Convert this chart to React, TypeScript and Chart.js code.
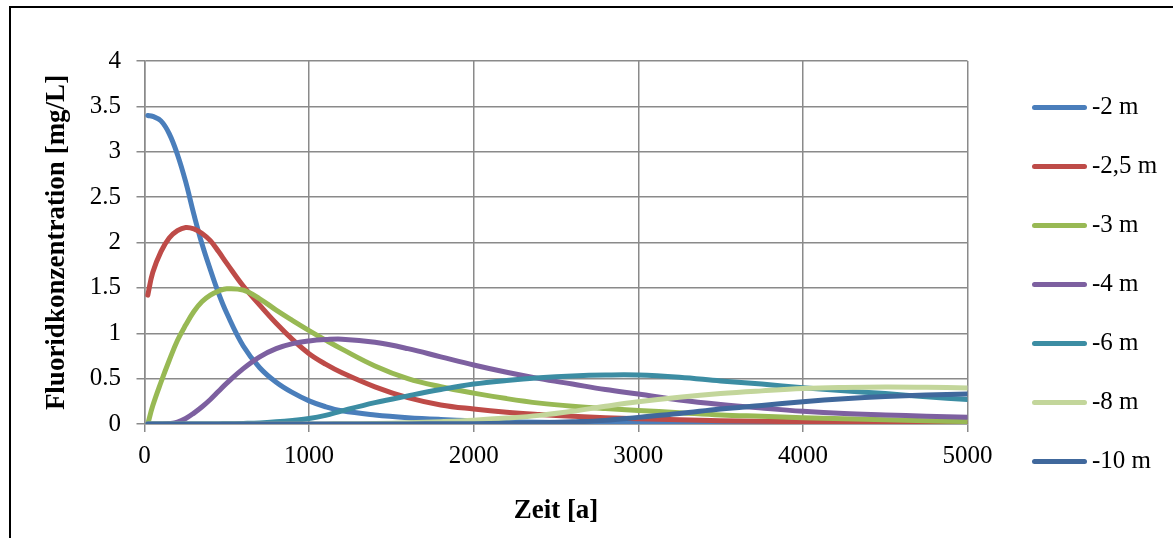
import React, { useEffect, useRef } from "react";
import { Chart, registerables } from "chart.js";

Chart.register(...registerables);

// Time axis (years)
const times = [20, 50, 100, 150, 200, 250, 300, 350, 400, 450, 500, 600, 700, 800, 900, 1000, 1100, 1200, 1400, 1600, 1800, 2000, 2200, 2400, 2600, 2800, 3000, 3250, 3500, 3750, 4000, 4250, 4500, 4750, 5000];

const seriesNames = ["-2 m", "-2,5 m", "-3 m", "-4 m", "-6 m", "-8 m", "-10 m"];

const depth2 = [3.40, 3.39, 3.34, 3.20, 2.97, 2.67, 2.31, 1.98, 1.70, 1.44, 1.22, 0.86, 0.62, 0.46, 0.345, 0.255, 0.19, 0.145, 0.10, 0.07, 0.05, 0.036, 0.027, 0.02, 0.015, 0.012, 0.009, 0.007, 0.005, 0.004, 0.003, 0.003, 0.002, 0.002, 0.002];
const depth25 = [1.42, 1.67, 1.90, 2.05, 2.13, 2.165, 2.15, 2.10, 2.02, 1.90, 1.77, 1.52, 1.31, 1.11, 0.93, 0.775, 0.66, 0.565, 0.41, 0.29, 0.21, 0.165, 0.13, 0.105, 0.085, 0.07, 0.058, 0.046, 0.037, 0.03, 0.025, 0.02, 0.017, 0.014, 0.012];
const depth3 = [0.0, 0.2, 0.46, 0.70, 0.92, 1.09, 1.24, 1.35, 1.42, 1.465, 1.49, 1.475, 1.38, 1.255, 1.14, 1.03, 0.925, 0.825, 0.64, 0.50, 0.41, 0.34, 0.28, 0.23, 0.195, 0.17, 0.15, 0.125, 0.10, 0.085, 0.07, 0.058, 0.047, 0.036, 0.027];
const depth4 = [0, 0, 0, 0.005, 0.02, 0.06, 0.12, 0.19, 0.27, 0.36, 0.45, 0.61, 0.74, 0.83, 0.885, 0.915, 0.93, 0.935, 0.90, 0.83, 0.74, 0.65, 0.57, 0.50, 0.44, 0.38, 0.33, 0.265, 0.215, 0.175, 0.14, 0.115, 0.1, 0.086, 0.075];
const depth6 = [0, 0, 0, 0, 0, 0, 0, 0, 0, 0.001, 0.002, 0.006, 0.012, 0.024, 0.04, 0.06, 0.095, 0.145, 0.235, 0.31, 0.38, 0.44, 0.48, 0.51, 0.53, 0.54, 0.54, 0.515, 0.475, 0.44, 0.40, 0.365, 0.335, 0.30, 0.27];
const depth8 = [0, 0, 0, 0, 0, 0, 0, 0, 0, 0, 0, 0, 0, 0, 0, 0, 0.001, 0.002, 0.006, 0.014, 0.026, 0.042, 0.065, 0.095, 0.14, 0.195, 0.245, 0.295, 0.335, 0.365, 0.39, 0.402, 0.407, 0.404, 0.398];
const depth10 = [0, 0, 0, 0, 0, 0, 0, 0, 0, 0, 0, 0, 0, 0, 0, 0, 0, 0, 0, 0.001, 0.002, 0.004, 0.008, 0.014, 0.024, 0.04, 0.073, 0.115, 0.165, 0.205, 0.245, 0.278, 0.303, 0.32, 0.33];

const seriesValues = [depth2, depth25, depth3, depth4, depth6, depth8, depth10];
const seriesColors = ["#4A7EBB", "#BE4B48", "#98B954", "#7D60A0", "#3C8DA3", "#C3D69B", "#40689C"];

const xTickValues = [0, 1000, 2000, 3000, 4000, 5000];
const yTickValues = [0, 0.5, 1, 1.5, 2, 2.5, 3, 3.5, 4];

const FONT = "'Liberation Serif', 'Times New Roman', serif";
const GRID = "#8a8a8a";

// Legend marker: a short round-capped line, slightly offset to the left of the text box
function legendMarker(color: string): HTMLCanvasElement {
  const c = document.createElement("canvas");
  c.width = 65;
  c.height = 9;
  const g = c.getContext("2d")!;
  g.strokeStyle = color;
  g.lineWidth = 5;
  g.lineCap = "round";
  g.beginPath();
  g.moveTo(11.5, 4.5);
  g.lineTo(61.5, 4.5);
  g.stroke();
  return c;
}

export default function App() {
  const ref = useRef<HTMLCanvasElement>(null);

  useEffect(() => {
    const datasets = seriesNames.map((name, i) => ({
      label: name,
      data: times.map((t, k) => ({ x: t, y: seriesValues[i][k] })),
      borderColor: seriesColors[i],
      backgroundColor: seriesColors[i],
      borderWidth: 5,
      borderCapStyle: "round" as const,
      borderJoinStyle: "round" as const,
      pointRadius: 0,
      pointStyle: legendMarker(seriesColors[i]),
      tension: 0.4,
      fill: false,
      order: seriesNames.length - i,
    }));

    const chart = new Chart(ref.current!, {
      type: "line",
      data: { datasets },
      options: {
        responsive: false,
        maintainAspectRatio: false,
        animation: false,
        layout: { padding: { top: 61, right: 15.5, bottom: 0, left: 0 } },
        plugins: {
          legend: {
            position: "right",
            align: "start",
            maxWidth: 160,
            labels: {
              usePointStyle: true,
              pointStyleWidth: 48,
              padding: 34,
              color: "#000",
              font: { family: FONT, size: 25 },
              sort: (a: any, b: any) => a.datasetIndex - b.datasetIndex,
            },
          },
          tooltip: { enabled: false },
        },
        scales: {
          x: {
            type: "linear",
            position: "bottom",
            min: 0,
            max: 5000,
            afterBuildTicks: (s: any) => {
              s.ticks = xTickValues.map((v) => ({ value: v }));
            },
            afterFit: (s: any) => {
              s.height = 114;
            },
            grid: { color: GRID, lineWidth: 1.5, tickLength: 8, drawTicks: true },
            border: { color: GRID, width: 1.5 },
            ticks: {
              padding: 9,
              color: "#000",
              font: { family: FONT, size: 25 },
              maxRotation: 0,
              autoSkip: false,
              callback: (v: any) => String(v),
            },
            title: {
              display: true,
              text: "Zeit [a]",
              color: "#000",
              font: { family: FONT, size: 27, weight: "bold" },
              padding: { top: 0, bottom: 10.8 },
            },
          },
          y: {
            type: "linear",
            position: "left",
            min: 0,
            max: 4,
            afterBuildTicks: (s: any) => {
              s.ticks = yTickValues.map((v) => ({ value: v }));
            },
            afterFit: (s: any) => {
              s.width = 144.5;
            },
            grid: { color: GRID, lineWidth: 1.5, tickLength: 8, drawTicks: true },
            border: { color: GRID, width: 1.5 },
            ticks: {
              padding: 15.5,
              color: "#000",
              font: { family: FONT, size: 25 },
              autoSkip: false,
              callback: (v: any) => String(v),
            },
            title: {
              display: true,
              text: "Fluoridkonzentration [mg/L]",
              color: "#000",
              font: { family: FONT, size: 27, weight: "bold" },
              padding: { top: 40.8, bottom: 0 },
            },
          },
          yPad: {
            axis: "y",
            type: "linear",
            position: "right",
            display: true,
            grid: { display: false },
            border: { display: false },
            ticks: { display: false },
            afterFit: (s: any) => {
              s.width = 30;
            },
          },
        },
      } as any,
    });
    return () => chart.destroy();
  }, []);

  return (
    <div
      style={{
        position: "fixed",
        left: 0,
        top: 0,
        width: 1173,
        height: 538,
        overflow: "hidden",
        background: "#fff",
      }}
    >
      <div
        style={{
          position: "absolute",
          left: 9,
          top: 6,
          width: 1400,
          height: 900,
          border: "2px solid #000",
          boxSizing: "border-box",
        }}
      />
      <canvas
        ref={ref}
        width={1173}
        height={538}
        style={{ position: "absolute", left: 0, top: 0, width: 1173, height: 538 }}
      />
    </div>
  );
}
